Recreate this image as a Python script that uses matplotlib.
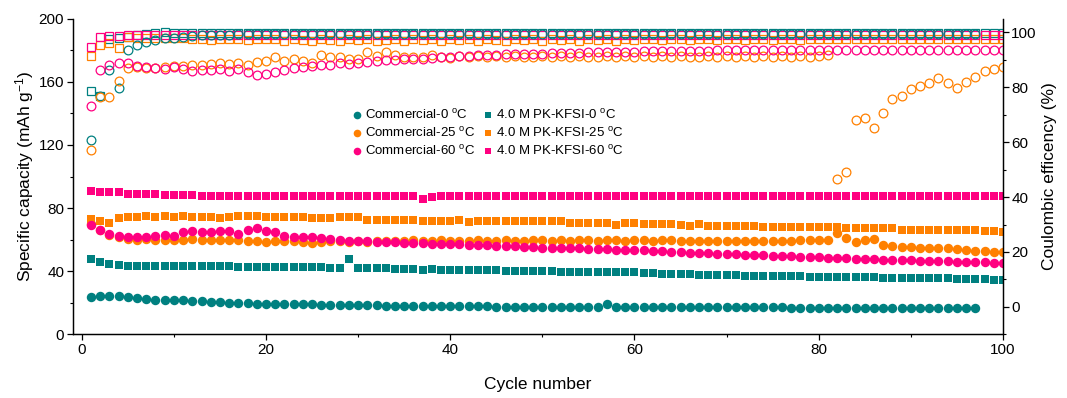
import numpy as np
import matplotlib
matplotlib.use("Agg")
import matplotlib.pyplot as plt
from matplotlib.ticker import MultipleLocator
from matplotlib.lines import Line2D

plt.rcParams['font.family'] = ['Liberation Sans', 'DejaVu Sans']
plt.rcParams['mathtext.fontset'] = 'custom'
plt.rcParams['mathtext.rm'] = 'Liberation Sans'
plt.rcParams['mathtext.it'] = 'Liberation Sans:italic'

TEAL = '#008080'
ORANGE = '#FF8000'
PINK = '#FF0080'

# specific capacity (mAh/g), commercial electrolyte
cap_c0 = [23.5, 24.5, 24, 24, 23.5, 23, 22.5, 22, 22, 21.5,
          21.5, 21, 21, 20.5, 20.5, 20, 20, 20, 19.5, 19.5,
          19.5, 19, 19, 19, 19, 18.5, 18.5, 18.5, 18.5, 18.5,
          18.5, 18.5, 18, 18, 18, 18, 18, 18, 18, 18,
          18, 18, 18, 18, 17.5, 17.5, 17.5, 17.5, 17.5, 17.5,
          17.5, 17.5, 17.5, 17.5, 17.5, 17.5, 19, 17.5, 17, 17,
          17, 17, 17, 17, 17, 17, 17, 17, 17, 17,
          17, 17, 17, 17, 17, 17, 16.8, 16.8, 16.8, 16.8,
          16.8, 16.8, 16.8, 16.8, 16.8, 16.8, 16.6, 16.6, 16.6, 16.6,
          16.6, 16.6, 16.6, 16.5, 16.5, 16.5, 16.5]
cap_c25 = [70, 66, 63, 61.5, 60.4, 60, 60.4, 60, 60, 59.7,
           59.7, 60.4, 59.7, 59.7, 59.5, 59.7, 59.7, 59.2, 59.2, 58.5,
           59.2, 59.2, 59.2, 58.5, 58, 58.5, 58.9, 59, 58.5, 59,
           58.5, 59, 59, 59, 59, 59.5, 59, 59, 59.5, 59,
           59, 59, 59.5, 59, 59, 59.5, 59, 59, 59.5, 59.5,
           59, 59.5, 59, 59.5, 59.5, 59, 59.5, 59.5, 59, 59.5,
           59.5, 59, 59.5, 59.5, 59.3, 58.9, 59.3, 59.3, 59.3, 59.3,
           59.3, 59, 59.3, 59.3, 59.3, 59.3, 59.3, 59.5, 59.5, 59.5,
           60, 64.2, 60.8, 58.7, 59.7, 60.1, 56.6, 56.2, 55.6, 55.2,
           54.8, 54.6, 54.8, 54.8, 54, 53.4, 53, 52.6, 52, 52]
cap_c60 = [69.3, 66.1, 63.5, 62.5, 61.8, 61.8, 61.8, 62.5, 63.1, 62.5,
           64.6, 65.7, 65.0, 64.6, 65.7, 65.7, 63.5, 66.1, 67.4, 65.7,
           64.6, 62.5, 61.8, 61.8, 61.8, 61.0, 60.4, 59.7, 59.3, 59.3,
           58.9, 58.7, 58.5, 58.3, 58, 57.8, 57.6, 57.5, 57.3, 57.2,
           57, 56.8, 56.6, 56.4, 56.2, 56, 55.8, 55.5, 55.3, 55,
           54.9, 54.7, 54.5, 54.4, 54.2, 54, 53.9, 53.7, 53.5, 53.4,
           53.2, 53, 52.7, 52.4, 52, 51.8, 51.5, 51.3, 51, 50.8,
           50.6, 50.4, 50.2, 50, 49.8, 49.6, 49.4, 49.2, 49, 48.7,
           48.5, 48.3, 48.1, 47.9, 47.7, 47.5, 47.3, 47.1, 47, 46.8,
           46.6, 46.5, 46.3, 46.2, 46, 45.9, 45.8, 45.6, 45.5, 45.4]

# specific capacity (mAh/g), 4.0 M PK-KFSI
cap_p0 = [47.7, 46, 44.5, 44, 43.5, 43.5, 43.5, 43.5, 43.5, 43,
          43, 43, 43, 43, 43, 43, 42.5, 42.5, 42.5, 42.5,
          42.5, 42.5, 42.5, 42.5, 42.5, 42.5, 42.3, 42.3, 48, 42.3,
          42, 42, 42, 41.5, 41.5, 41.5, 41, 41.5, 41, 40.7,
          40.7, 40.5, 40.5, 40.5, 40.5, 40, 40, 40, 40, 40,
          40, 39.5, 39.5, 39.5, 39.5, 39.5, 39.5, 39.5, 39.2, 39.2,
          39, 39, 38.5, 38.5, 38.1, 38.1, 37.8, 37.8, 37.5, 37.5,
          37.5, 37.2, 37.2, 37.2, 37, 37, 37, 36.8, 36.6, 36.6,
          36.6, 36.5, 36.5, 36.2, 36.2, 36.2, 36, 36, 36, 35.8,
          35.6, 35.6, 35.4, 35.4, 35.2, 35, 35, 34.8, 34.6, 34.5]
cap_p25 = [73.1, 71.6, 70.5, 73.7, 74.2, 74.2, 74.8, 74.2, 74.8, 74.2,
           74.8, 74.2, 74.2, 74.2, 73.7, 74.2, 74.8, 74.8, 74.8, 74.2,
           74.2, 74.2, 74.2, 74.2, 73.6, 73.6, 73.7, 74.2, 74.2, 74.2,
           72.5, 72.5, 72.5, 72.5, 72.5, 72.5, 72.0, 72.0, 72.0, 71.6,
           72.5, 71.0, 71.6, 71.6, 71.6, 71.6, 71.6, 71.6, 71.6, 71.6,
           71.6, 71.6, 70.5, 70.5, 70.5, 70.5, 70.5, 69.5, 70.3, 70.3,
           69.8, 69.8, 69.8, 69.8, 69.5, 68.9, 70.0, 68.9, 68.9, 68.9,
           68.9, 68.9, 68.9, 68.3, 68.3, 67.8, 68.3, 67.8, 67.8, 67.8,
           67.8, 67.8, 67.2, 67.2, 67.2, 67.2, 67.2, 67.2, 66.4, 66.4,
           66.4, 66.4, 66.0, 66.0, 66.0, 66.0, 66.0, 65.3, 65.3, 64.7]
cap_p60 = [91.1, 90.5, 89.9, 89.9, 89.2, 89.2, 88.8, 88.8, 88.0, 88.0,
           88.0, 88.4, 87.5, 87.5, 87.5, 87.5, 87.5, 87.5, 87.5, 87.5,
           87.5, 87.5, 87.5, 87.5, 87.5, 87.5, 87.5, 87.5, 87.5, 87.5,
           87.5, 87.5, 87.5, 87.5, 87.5, 87.5, 85.8, 86.9, 87.5, 87.5,
           87.5, 87.5, 87.5, 87.5, 87.5, 87.5, 87.5, 87.5, 87.5, 87.5,
           87.5, 87.5, 87.5, 87.5, 87.5, 87.5, 87.5, 87.5, 87.5, 87.5,
           87.5, 87.5, 87.5, 87.5, 87.5, 87.5, 87.5, 87.5, 87.5, 87.5,
           87.5, 87.5, 87.5, 87.5, 87.5, 87.5, 87.5, 87.5, 87.5, 87.5,
           87.5, 87.5, 87.5, 87.5, 87.5, 87.5, 87.5, 87.5, 87.5, 87.5,
           87.5, 87.5, 87.5, 87.5, 87.5, 87.5, 87.5, 87.5, 87.5, 87.5]

# coulombic efficiency (%), commercial electrolyte
ce_c0 = [60.8, 77, 86.3, 79.6, 93.5, 95.6, 96.6, 97.2, 97.8, 97.8,
         98.4, 98.8, 99, 99, 99.2, 99.2, 99.3, 99.3, 99.3, 99.4,
         99.4, 99.4, 99.4, 99.5, 99.5, 99.5, 99.5, 99.5, 99.5, 99.5,
         99.5, 99.5, 99.5, 99.5, 99.5, 99.5, 99.5, 99.5, 99.5, 99.5,
         99.5, 99.5, 99.5, 99.5, 99.5, 99.5, 99.5, 99.5, 99.5, 99.5,
         99.5, 99.5, 99.5, 99.5, 99.5, 99.5, 99.5, 99.5, 99.5, 99.5,
         99.5, 99.5, 99.5, 99.5, 99.5, 99.5, 99.5, 99.5, 99.5, 99.5,
         99.5, 99.5, 99.5, 99.5, 99.5, 99.5, 99.5, 99.5, 99.5, 99.5,
         99.5, 99.5, 99.5, 99.5, 99.5, 99.5, 99.5, 99.5, 99.5, 99.5,
         99.5, 99.5, 99.5, 99.5, 99.5, 99.5, 99.5]
ce_c25 = [57, 76.4, 76.4, 82.4, 86.9, 87.5, 86.9, 87.0, 87.3, 87.7,
          87.7, 88.1, 88.1, 88.5, 88.7, 88.5, 88.7, 88.1, 89.1, 89.7,
          90.9, 89.5, 90.5, 89.5, 89.0, 91.7, 90.9, 90.9, 90.5, 90.2,
          92.7, 91.5, 92.7, 91.7, 91.0, 91.0, 91.0, 91.7, 91.0, 90.8,
          91.5, 91.0, 91.5, 91.0, 91.3, 91.0, 91.5, 91.2, 91.0, 91.5,
          91.2, 91.5, 91.0, 91.5, 91.2, 91.0, 91.5, 91.2, 91.5, 91.2,
          91.5, 91.2, 91.5, 91.0, 91.5, 91.2, 91.0, 91.5, 91.2, 91.5,
          91.2, 91.5, 91.0, 91.5, 91.2, 91.5, 91.0, 91.5, 91.2, 91.5,
          91.8, 46.7, 49.3, 68.1, 69.0, 65.1, 70.5, 75.6, 76.8, 79.4,
          80.5, 81.5, 83.3, 81.5, 79.9, 82.0, 83.6, 85.9, 86.7, 87.3]
ce_c60 = [73.3, 86.3, 88.1, 88.7, 88.7, 87.9, 87.5, 86.9, 86.5, 87.3,
          86.5, 86.0, 86.3, 86.3, 86.6, 86.0, 86.6, 85.4, 84.5, 85.0,
          85.6, 86.3, 87.0, 87.5, 87.7, 88.0, 88.3, 88.7, 88.5, 89.0,
          89.3, 89.5, 89.9, 90.0, 90.2, 90.5, 90.4, 90.7, 91.0, 91.2,
          91.3, 91.5, 91.6, 91.7, 91.9, 92.0, 92.1, 92.2, 92.3, 92.3,
          92.4, 92.5, 92.6, 92.6, 92.7, 92.8, 92.8, 92.9, 93.0, 93.0,
          93.1, 93.1, 93.2, 93.2, 93.3, 93.3, 93.4, 93.4, 93.5, 93.5,
          93.5, 93.6, 93.5, 93.6, 93.6, 93.5, 93.6, 93.6, 93.5, 93.6,
          93.6, 93.6, 93.5, 93.6, 93.6, 93.6, 93.5, 93.6, 93.6, 93.6,
          93.6, 93.5, 93.6, 93.6, 93.6, 93.6, 93.5, 93.6, 93.6, 93.6]

# coulombic efficiency (%), 4.0 M PK-KFSI
ce_p0 = [78.7, 76.8, 97.5, 98.0, 98.2, 99.0, 99.3, 99.8, 100.0, 99.8,
         99.8, 99.8, 99.8, 99.9, 99.8, 99.8, 99.8, 99.9, 99.8, 99.8,
         99.8, 99.8, 99.9, 99.8, 99.8, 99.8, 99.8, 99.9, 99.8, 99.8,
         99.8, 99.8, 99.8, 99.9, 99.8, 99.8, 99.8, 99.8, 99.8, 99.9,
         99.8, 99.8, 99.8, 99.8, 99.8, 99.9, 99.8, 99.8, 99.8, 99.8,
         99.8, 99.9, 99.8, 99.8, 99.8, 99.8, 99.8, 99.9, 99.8, 99.8,
         99.8, 99.8, 99.8, 99.9, 99.8, 99.8, 99.8, 99.8, 99.8, 99.9,
         99.8, 99.8, 99.8, 99.8, 99.8, 99.9, 99.8, 99.8, 99.8, 99.8,
         99.8, 99.9, 99.8, 99.8, 99.8, 99.8, 99.8, 99.9, 99.8, 99.8,
         99.8, 99.8, 99.8, 99.9, 99.8, 99.8, 99.8, 99.8, 99.8, 99.8]
ce_p25 = [91.5, 95.4, 96.0, 94.2, 98.2, 98.0, 98.0, 97.8, 97.8, 97.8,
          97.8, 97.5, 97.5, 97.2, 97.5, 97.5, 97.5, 97.2, 97.5, 97.5,
          97.5, 97.0, 97.5, 97.2, 97.0, 97.5, 97.2, 96.8, 97.5, 97.2,
          97.5, 96.8, 97.2, 97.5, 97.0, 97.5, 97.2, 97.5, 97.0, 97.5,
          97.2, 97.5, 97.0, 97.5, 97.2, 96.8, 97.5, 97.2, 97.5, 97.0,
          97.5, 97.2, 97.5, 97.0, 97.5, 97.2, 97.5, 97.0, 97.5, 97.2,
          97.5, 97.5, 97.2, 97.5, 97.5, 97.2, 97.5, 97.5, 97.2, 97.5,
          97.5, 97.2, 97.5, 97.5, 97.2, 97.5, 97.5, 97.2, 97.5, 97.5,
          97.5, 97.5, 97.5, 97.5, 97.5, 97.5, 97.5, 97.5, 97.5, 97.5,
          97.5, 97.5, 97.5, 97.5, 97.5, 97.5, 97.5, 97.5, 97.5, 97.5]
ce_p60 = [94.8, 98.2, 98.8, 98.8, 99.0, 99.0, 99.0, 99.0, 99.0, 99.0,
          99.0, 99.0, 99.0, 99.0, 99.0, 99.0, 99.0, 99.0, 99.0, 99.0,
          99.0, 99.0, 99.0, 99.0, 99.0, 99.0, 99.0, 99.0, 99.0, 99.0,
          99.0, 99.0, 99.0, 99.0, 99.0, 99.0, 99.0, 99.0, 99.0, 99.0,
          99.0, 99.0, 99.0, 99.0, 99.0, 99.0, 99.0, 99.0, 99.0, 99.0,
          99.0, 99.0, 99.0, 99.0, 99.0, 99.0, 99.0, 99.0, 99.0, 99.0,
          99.0, 99.0, 99.0, 99.0, 99.0, 99.0, 99.0, 99.0, 99.0, 99.0,
          99.0, 99.0, 99.0, 99.0, 99.0, 99.0, 99.0, 99.0, 99.0, 99.0,
          99.0, 99.0, 99.0, 99.0, 99.0, 99.0, 99.0, 99.0, 99.0, 99.0,
          99.0, 99.0, 99.0, 99.0, 99.0, 99.0, 99.0, 99.0, 99.0, 99.0]

labels_comm = ['Commercial-0 $^{\\mathrm{o}}$C', 'Commercial-25 $^{\\mathrm{o}}$C',
               'Commercial-60 $^{\\mathrm{o}}$C']
labels_pk = ['4.0 M PK-KFSI-0 $^{\\mathrm{o}}$C', '4.0 M PK-KFSI-25 $^{\\mathrm{o}}$C',
             '4.0 M PK-KFSI-60 $^{\\mathrm{o}}$C']
colors = [TEAL, ORANGE, PINK]

fig = plt.figure(figsize=(10.67, 3.98), dpi=100)
ax = fig.add_axes([0.068, 0.160, 0.872, 0.793])
ax2 = ax.twinx()

def cyc(vals):
    return np.arange(1, len(vals) + 1)

# capacity: squares first, circles on top
for vals, c in zip([cap_p0, cap_p25, cap_p60], colors):
    ax.plot(cyc(vals), vals, 's', color=c, ms=5.8, mew=0, ls='none')
for vals, c in zip([cap_c0, cap_c25, cap_c60], colors):
    ax.plot(cyc(vals), vals, 'o', color=c, ms=6.8, mew=0, ls='none')

# coulombic efficiency: open symbols
for vals, c in zip([ce_p0, ce_p25, ce_p60], colors):
    ax2.plot(cyc(vals), vals, 's', mfc='none', mec=c, ms=5.4, mew=0.9, ls='none')
for vals, c in zip([ce_c0, ce_c25, ce_c60], colors):
    ax2.plot(cyc(vals), vals, 'o', mfc='none', mec=c, ms=6.3, mew=0.9, ls='none')

ax.set_xlim(-1, 100)
ax.set_ylim(0, 200)
ax2.set_ylim(-10, 105)

ax.xaxis.set_major_locator(MultipleLocator(20))
ax.xaxis.set_minor_locator(MultipleLocator(10))
ax.yaxis.set_major_locator(MultipleLocator(40))
ax.yaxis.set_minor_locator(MultipleLocator(20))
ax2.yaxis.set_major_locator(MultipleLocator(20))
ax2.yaxis.set_minor_locator(MultipleLocator(10))

for a in (ax, ax2):
    a.spines['top'].set_visible(False)
    for s in a.spines.values():
        s.set_linewidth(0.9)
    a.tick_params(which='major', direction='out', length=4, width=0.9, labelsize=11, pad=2)
    a.tick_params(which='minor', direction='out', length=2.5, width=0.8)

ax.set_xlabel('Cycle number', fontsize=12.5, labelpad=15)
ax.set_ylabel('Specific capacity (mAh g$^{-1}$)', fontsize=12.5, labelpad=2)
ax2.set_ylabel('Coulombic efficency (%)', fontsize=12.5, labelpad=4)

# two legend columns placed separately
leg_kw = dict(loc='upper left', frameon=False, fontsize=9.5, handlelength=0.8,
              handletextpad=0.25, labelspacing=0.3, borderaxespad=0, borderpad=0)
h_comm = [Line2D([], [], marker='o', color=c, ls='none', ms=5.5, mew=0) for c in colors]
h_pk = [Line2D([], [], marker='s', color=c, ls='none', ms=5.0, mew=0) for c in colors]
leg1 = ax.legend(h_comm, labels_comm, bbox_to_anchor=(0.2998, 0.716), **leg_kw)
ax.add_artist(leg1)
ax.legend(h_pk, labels_pk, bbox_to_anchor=(0.4406, 0.716), **leg_kw)

fig.savefig('out.png', dpi=100)
